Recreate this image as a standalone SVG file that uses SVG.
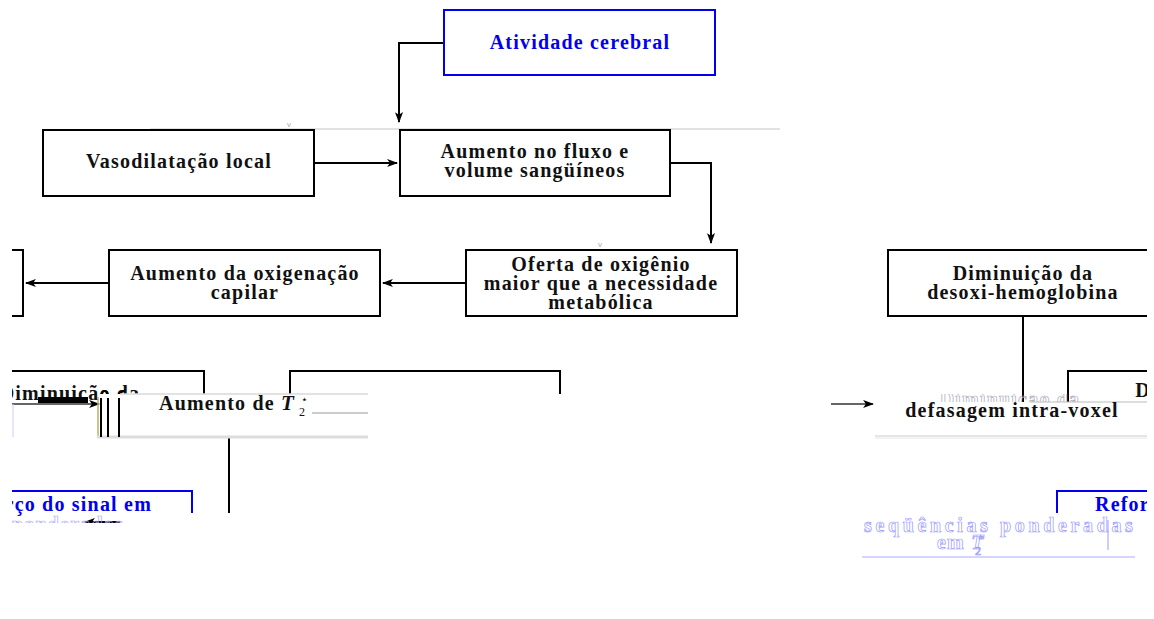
<svg xmlns="http://www.w3.org/2000/svg" width="1154" height="619" viewBox="0 0 1154 619">
<style>
.box{fill:#fff;stroke:#000;stroke-width:2}
.bbox{fill:#fff;stroke:#0000ee;stroke-width:2}
.t{font-family:"Liberation Serif","Times New Roman",serif;font-weight:bold;font-size:20px;letter-spacing:1.2px;fill:#111;text-anchor:middle}
.tb{fill:#0000ee}
.ln{fill:none;stroke:#000;stroke-width:2}
.gl{fill:none;stroke:#d8d8d8;stroke-width:1.5}
.faint{font-family:"Liberation Serif",serif;font-weight:bold;font-size:20px;letter-spacing:1.2px;fill:none;stroke-width:0.7}
.sub{font-size:12px;font-weight:normal;font-style:normal;letter-spacing:0}
.star{font-family:"DejaVu Sans",sans-serif;font-size:11px;font-weight:normal;font-style:normal;letter-spacing:0}
</style>
<defs>
<marker id="ah" viewBox="0 0 10 10" refX="9" refY="5" markerWidth="11" markerHeight="9" orient="auto" markerUnits="userSpaceOnUse" preserveAspectRatio="none">
<path d="M0,0.5 L10,5 L0,9.5 L2.5,5 Z" fill="#000"/>
</marker>
<clipPath id="cl"><rect x="12" y="0" width="1135" height="619"/></clipPath>
<clipPath id="dimL"><rect x="12" y="370" width="190" height="31"/></clipPath>
<clipPath id="dimR"><rect x="900" y="394" width="250" height="8"/></clipPath>
<clipPath id="ponL"><rect x="12" y="514" width="120" height="9"/></clipPath>
<clipPath id="seqR"><rect x="862" y="514" width="273" height="45"/></clipPath>
</defs>
<rect width="1154" height="619" fill="#fff"/>
<g clip-path="url(#cl)">
<line class="gl" x1="150" y1="129" x2="780" y2="129"/>
<text x="289" y="127" font-family="Liberation Sans,sans-serif" font-size="8" fill="#aaa" text-anchor="middle">v</text>
<text x="600" y="247" font-family="Liberation Sans,sans-serif" font-size="8" fill="#aaa" text-anchor="middle">v</text>

<g id="connectors">
<path class="ln" d="M444,43 H399 V122" marker-end="url(#ah)"/>
<path class="ln" d="M314,163 H397" marker-end="url(#ah)"/>
<path class="ln" d="M670,163 H711 V243" marker-end="url(#ah)"/>
<path class="ln" d="M466,283 H383" marker-end="url(#ah)"/>
<path class="ln" d="M109,283 H26" marker-end="url(#ah)"/>
<path class="ln" d="M1023,316 V402"/>
<path class="ln" d="M229,438 V513"/>
<path d="M831,404 H873" stroke="#333" stroke-width="1.5" marker-end="url(#ah)"/>
<path d="M120,522 H85" stroke="#000" stroke-width="2" marker-end="url(#ah)" clip-path="url(#ponL)"/>
</g>

<g id="n-atividade">
<rect class="bbox" x="444" y="10" width="271" height="65"/>
<text class="t tb" x="580" y="49">Atividade cerebral</text>
</g>
<g id="n-vaso">
<rect class="box" x="43" y="130" width="271" height="66"/>
<text class="t" x="179" y="168">Vasodilatação local</text>
</g>
<g id="n-fluxo">
<rect class="box" x="400" y="130" width="270" height="66"/>
<text class="t" x="535" y="158">Aumento no fluxo e</text>
<text class="t" x="535" y="177">volume sangüíneos</text>
</g>
<g id="n-oferta">
<rect class="box" x="466" y="250" width="271" height="66"/>
<text class="t" x="601" y="271">Oferta de oxigênio</text>
<text class="t" x="601" y="290">maior que a necessidade</text>
<text class="t" x="601" y="309">metabólica</text>
</g>
<g id="n-oxig">
<rect class="box" x="109" y="250" width="271" height="66"/>
<text class="t" x="245" y="280">Aumento da oxigenação</text>
<text class="t" x="245" y="299">capilar</text>
</g>
<g id="n-left">
<path class="ln" d="M0,250 H23 V316 H0"/>
</g>
<g id="n-desoxi">
<rect class="box" x="888" y="250" width="280" height="66"/>
<text class="t" x="1023" y="280">Diminuição da</text>
<text class="t" x="1023" y="299">desoxi-hemoglobina</text>
</g>

<g id="n-dim-left">
<path class="ln" d="M0,371 H204 V394"/>
<text class="t" x="70" y="400" clip-path="url(#dimL)">Diminuição da</text>
<rect x="38" y="397" width="50" height="6" fill="#000"/>
<path d="M12,404 H99" stroke="#333" stroke-width="1.5" marker-end="url(#ah)"/>
<line x1="13" y1="404" x2="13" y2="437" stroke="#ccf" stroke-width="1"/>
<path d="M98,437 V397" stroke="#b8b060" stroke-width="1.5" fill="none"/>
<path d="M101,437 V398 Q101,391 104.5,391 Q108,391 108,398 V437" class="ln"/>
<path d="M119,437 V398 Q119,391 125,391" class="ln"/>
</g>
<g id="n-t2">
<path class="ln" d="M290,394 V371 H560 V394"/>
<rect x="100" y="394" width="268" height="43" fill="#fff"/>
<line class="gl" x1="120" y1="394" x2="368" y2="394"/>
<line x1="312" y1="413" x2="368" y2="413" stroke="#999" stroke-width="1"/>
<line x1="97" y1="437" x2="368" y2="437" stroke="#ddd" stroke-width="3"/>
<path class="ln" d="M101,437 V398 M108,398 V437 M119,398 V437"/>
<text class="t" x="159" y="410" style="text-anchor:start">Aumento de <tspan font-style="italic" font-size="21">T</tspan><tspan class="sub" x="299" y="416">2</tspan><tspan class="star" x="301" y="403">⋆</tspan></text>
</g>
<g id="n-defas">
<path class="ln" d="M1068,402 V371 H1160"/>
<text class="faint" x="1010" y="406" text-anchor="middle" stroke="#aab" clip-path="url(#dimR)">Diminuição da</text>
<text class="t" x="1143" y="397">D</text>
<line x1="1030" y1="402" x2="1147" y2="402" stroke="#bbb" stroke-width="1"/>
<text class="t" x="1012" y="417">defasagem intra-voxel</text>
<line x1="875" y1="436" x2="1147" y2="436" stroke="#ccc" stroke-width="1"/>
<line x1="875" y1="438" x2="1147" y2="438" stroke="#e6e6e6" stroke-width="1"/>
</g>
<g id="n-reforco-right">
<path d="M1057,513 V491 H1160" fill="none" stroke="#0000ee" stroke-width="2"/>
<text class="t tb" x="1095" y="511" style="text-anchor:start">Reforço</text>
<text class="faint" x="864" y="532" stroke="#99f" textLength="270" lengthAdjust="spacing" clip-path="url(#seqR)">seqüências ponderadas</text>
<text class="faint" x="937" y="549" stroke="#99f">em <tspan font-style="italic">T</tspan><tspan class="sub" x="975" y="555">2</tspan><tspan class="star" x="977" y="541">⋆</tspan></text>
<line x1="1108" y1="520" x2="1108" y2="550" stroke="#99f" stroke-width="1"/>
<line x1="862" y1="557" x2="1135" y2="557" stroke="#aaf" stroke-width="1"/>
</g>
<g id="n-reforco-left">
<path d="M0,491 H192 V513" fill="none" stroke="#0000ee" stroke-width="2"/>
<text class="t tb" x="152" y="511" style="text-anchor:end">Reforço do sinal em</text>
<text class="faint" x="12" y="531" stroke="#aaf" clip-path="url(#ponL)">ponderadas</text>
</g>
</g>
</svg>
